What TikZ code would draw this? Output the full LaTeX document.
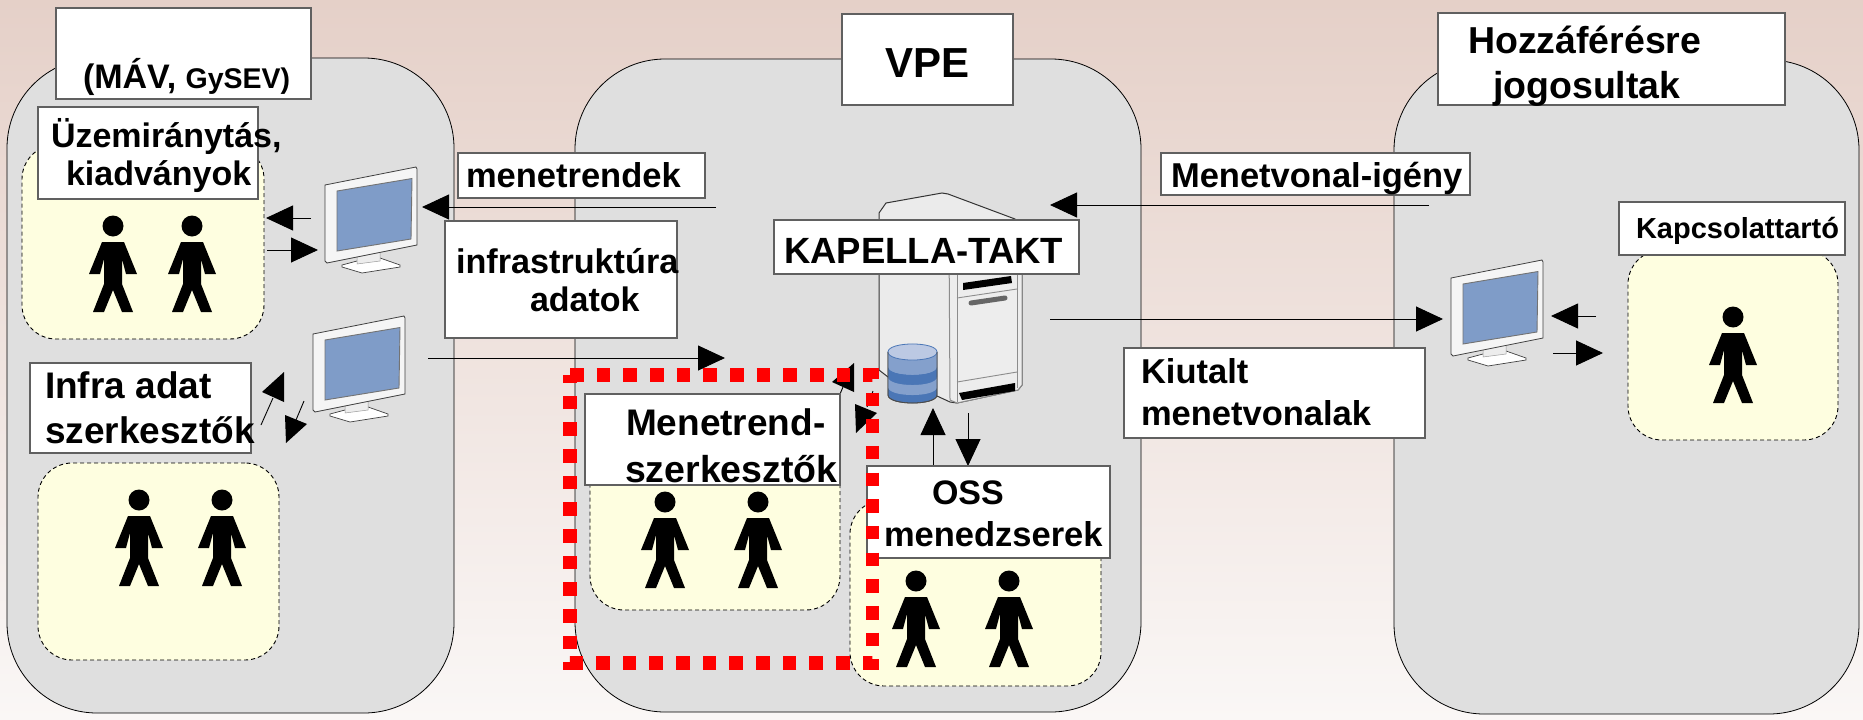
\documentclass[tikz,border=0pt]{standalone}
\usepackage{fontspec}
\setmainfont{Liberation Sans}
\usetikzlibrary{arrows.meta}
\definecolor{panelgray}{HTML}{DFDFDF}
\definecolor{yellowbg}{HTML}{FEFEE0}
\definecolor{boxline}{HTML}{606060}
\definecolor{screenblue}{HTML}{7F9CC8}
\definecolor{cyltop}{HTML}{BCC9E3}
\definecolor{cylmid}{HTML}{84A0CC}
\definecolor{cyldark}{HTML}{4A76B6}
\tikzset{
  panel/.style={draw=black,line width=0.8pt,fill=panelgray,rounded corners=90pt,inner sep=0pt,outer sep=0pt},
  group/.style={draw=black,line width=0.9pt,dash pattern=on 4pt off 3pt,fill=yellowbg,rounded corners=34pt,inner sep=0pt,outer sep=0pt},
  labelbox/.style={draw=boxline,line width=1.3pt,fill=white,inner sep=0pt,outer sep=0pt},
  txt/.style={anchor=base west,inner sep=0pt,outer sep=0pt,text=black},
  flow/.style={line width=0.9pt,draw=black,-{Triangle[length=27pt,width=25pt]}},
  thinline/.style={line width=0.9pt,draw=black},
  redframe/.style={draw=red,line width=13.5pt,dash pattern=on 13.6pt off 13.07pt},
}
\newcommand{\fs}[1]{\bfseries\fontsize{#1pt}{#1pt}\selectfont}
\newcommand{\area}[6]{%
  \pgfmathsetmacro{\cxx}{(#3+#5)/2}\pgfmathsetmacro{\cyy}{(#4+#6)/2}%
  \pgfmathsetmacro{\www}{#5-#3}\pgfmathsetmacro{\hhh}{#6-#4}%
  \node[#1,minimum width=\www pt,minimum height=\hhh pt] (#2) at (\cxx,\cyy) {};}
\newcommand{\person}[2]{%
  \begin{scope}[shift={(#1,#2)}]
    \fill[black] (0,0) circle[radius=10.5pt];
    \fill[black] (-11,16) -- (11,16) -- (24,48) -- (13,48) -- (9,33) -- (9,58) -- (20,86) -- (9,86) -- (0,64)
      -- (-9,86) -- (-20,86) -- (-9,58) -- (-9,33) -- (-13,48) -- (-24,48) -- cycle;
  \end{scope}}
\newcommand{\monitor}[2]{%
  \begin{scope}[shift={(#1,#2)}]
    \filldraw[fill=white,draw=black!75,line width=0.7pt] (17,82) -- (32,78) -- (55,75) -- (75,82) -- (75,84) -- (37,90) -- (17,84) -- cycle;
    \filldraw[fill=white!93!black,draw=black!40,line width=0.5pt] (32,72) -- (32,81) -- (55,78) -- (55,68) -- cycle;
    \filldraw[fill=white!96!black,draw=black!75,line width=0.8pt] (0,2) -- (91,-16) -- (92,-14) -- (92,62) -- (2,80) -- (0,78) -- cycle;
    \filldraw[fill=screenblue,draw=black!55,line width=0.9pt] (12,8) -- (87,-4.5) -- (86,56) -- (12,68) -- cycle;
  \end{scope}}
\newcommand{\band}[3]{\fill[#3] (888,#1) -- (888,#2) .. controls (888,#2+10.7) and (937,#2+10.7) .. (937,#2) -- (937,#1) .. controls (937,#1+10.7) and (888,#1+10.7) .. (888,#1) -- cycle;}
\begin{document}
\begin{tikzpicture}[x=1pt,y=-1pt]
\useasboundingbox (0,0) rectangle (1863,720);
\shade[top color={rgb,255:red,229;green,208;blue,200},middle color={rgb,255:red,240;green,228;blue,223},bottom color={rgb,255:red,250;green,247;blue,246}] (0,0) rectangle (1863,720);

% panels
\area{panel}{pleft}{7}{58}{454}{713}
\area{panel}{pmid}{575}{59}{1141}{712}
\area{panel}{pright}{1394}{60}{1859}{714}

% people groups
\area{group}{gone}{22}{145}{264}{339}
\area{group}{gtwo}{38}{463}{279}{660}
\area{group}{gthree}{590}{440}{840}{610}
\area{group}{gfour}{850}{500}{1101}{686}
\area{group}{gfive}{1628}{250}{1838}{440}

\person{113}{226}\person{192}{226}
\person{139}{500}\person{222}{500}
\person{665}{502}\person{758}{502}
\person{916}{581}\person{1009}{581}
\person{1733}{317}

\monitor{325}{183}
\monitor{313}{332}
\monitor{1451}{276}

% server
\filldraw[fill=white!92!black,draw=black!80,line width=1pt]
  (879,219) -- (879,213) -- (886,203) -- (942,193) -- (948,194) -- (1015,219) -- (1022,240) -- (1022,385) -- (1018,390) -- (957,403) -- (950,402) -- (937,396) -- (888,377) -- (879,370) -- cycle;
\filldraw[fill=white!93!black,draw=black!45,line width=1pt]
  (949,240) -- (1022,240) -- (1022,385) -- (1018,390) -- (957,403) -- (950,400) -- cycle;
\draw[black!45,line width=0.9pt] (957,240) -- (957,402);
\draw[black!45,line width=0.9pt] (1017,240) -- (1017,388);
\draw[black!45,line width=0.9pt] (957,298) -- (1017,289);
\draw[black!45,line width=0.9pt] (957,382) -- (1017,372);
\fill[black] (963,283) -- (1011,276) -- (1012,283) -- (963,290) -- cycle;
\draw[black!60,line width=5pt,line cap=round] (971,303) -- (1005,298);
\fill[black] (959,393) -- (1015,383) -- (1015,391) -- (962,400) -- cycle;

% database cylinder
\filldraw[fill=cyldark,draw=black!70,line width=0.8pt] (888,352) -- (888,395) .. controls (888,405.7) and (937,405.7) .. (937,395) -- (937,352) -- cycle;
\band{352}{367}{cylmid}
\band{367}{377}{cyldark}
\band{377}{387}{cylmid}
\filldraw[fill=cyltop,draw=cyldark,line width=0.8pt] (888,352) .. controls (888,341.3) and (937,341.3) .. (937,352) .. controls (937,362.7) and (888,362.7) .. (888,352) -- cycle;
\draw[black!70,line width=0.8pt] (888,352) -- (888,395) .. controls (888,405.7) and (937,405.7) .. (937,395) -- (937,352);

% connector ends
\coordinate (a1s) at (311,218); \coordinate (a1e) at (266,218);
\coordinate (a2s) at (267,250); \coordinate (a2e) at (318,250);
\coordinate (a3s) at (716,207); \coordinate (a3e) at (422,207);
\coordinate (a4s) at (428,358); \coordinate (a4e) at (725,358);
\coordinate (a5s) at (1429,205); \coordinate (a5e) at (1050,205);
\coordinate (a6s) at (1050,319); \coordinate (a6e) at (1443,319);
\coordinate (a7s) at (1596,316); \coordinate (a7e) at (1551,316);
\coordinate (a8s) at (1553,353); \coordinate (a8e) at (1603,353);
\coordinate (a9s) at (933,467); \coordinate (a9e) at (933,408);
\coordinate (a10s) at (968,413); \coordinate (a10e) at (968,466);

\draw[flow] (a1s) -- (a1e);
\draw[flow] (a2s) -- (a2e);
\draw[flow] (a3s) -- (a3e);
\draw[flow] (a4s) -- (a4e);
\draw[flow] (a5s) -- (a5e);
\draw[flow] (a6s) -- (a6e);
\draw[flow] (a7s) -- (a7e);
\draw[flow] (a8s) -- (a8e);
\draw[flow] (a9s) -- (a9e);
\draw[flow] (a10s) -- (a10e);

% skewed arrows
\draw[thinline] (261,425) -- (273,398);
\fill[black] (284,372) -- (284,402) -- (262,392) -- cycle;
\draw[thinline] (304,401) -- (296,420);
\fill[black] (285,415) -- (307,424) -- (286,443) -- cycle;
\draw[thinline] (831,415) -- (843,387);
\fill[black] (854,363) -- (854,392) -- (832,382) -- cycle;
\draw[thinline] (873,391) -- (867,407);
\fill[black] (855,404) -- (877,413) -- (856,433) -- cycle;

% label boxes
\area{labelbox}{bmav}{56}{8}{311}{99}
\area{labelbox}{buzem}{38}{107}{258}{199}
\area{labelbox}{binfra}{30}{363}{251}{453}
\area{labelbox}{bmenet}{458}{153}{705}{198}
\area{labelbox}{bistr}{445}{221}{677}{338}
\area{labelbox}{bvpe}{842}{14}{1013}{105}
\area{labelbox}{bhozz}{1438}{13}{1785}{105}
\area{labelbox}{bigeny}{1161}{153}{1470}{195}
\area{labelbox}{bkap}{774}{220}{1079}{274}
\area{labelbox}{bkapcs}{1619}{202}{1845}{255}
\area{labelbox}{bkiut}{1124}{348}{1425}{438}
\area{labelbox}{bmsz}{585}{394}{840}{485}
\area{labelbox}{boss}{867}{466}{1110}{558}

% texts
\node[txt] (tmav) at (83,88) {\fs{34}(MÁV, {\fs{28.5}GySEV)}};
\node[txt] (tuz) at (51,147) {\fs{34}Üzemiránytás,};
\node[txt] (tki) at (66,185) {\fs{34}kiadványok};
\node[txt] (tin) at (45,398) {\fs{37}Infra adat};
\node[txt] (tsz) at (45,443) {\fs{37}szerkesztők};
\node[txt] (tme) at (466,187) {\fs{34.5}menetrendek};
\node[txt] (tis) at (456,273) {\fs{34.2}infrastruktúra};
\node[txt] (tad) at (530,311) {\fs{34}adatok};
\node[txt] (tvp) at (885,77) {\fs{42}VPE};
\node[txt] (tho) at (1468,53) {\fs{37.5}Hozzáférésre};
\node[txt] (tjo) at (1493,98) {\fs{37.5}jogosultak};
\node[txt] (tig) at (1171,187) {\fs{34.5}Menetvonal-igény};
\node[txt] (tka) at (784,263) {\fs{36.5}KAPELLA-TAKT};
\node[txt] (tkp) at (1636,238) {\fs{29}Kapcsolattartó};
\node[txt] (tkt) at (1141,383) {\fs{34.5}Kiutalt};
\node[txt] (tmv) at (1141,425) {\fs{34.5}menetvonalak};
\node[txt] (tmr) at (626,435) {\fs{37}Menetrend-};
\node[txt] (tms) at (625,482) {\fs{37.5}szerkesztők};
\node[txt] (tos) at (932,504) {\fs{34}OSS};
\node[txt] (tmd) at (884,546) {\fs{34.5}menedzserek};

% red selection frame
\draw[redframe] (570,375) -- (872.5,375) -- (872.5,663) -- (570,663) -- cycle;
\end{tikzpicture}
\end{document}
